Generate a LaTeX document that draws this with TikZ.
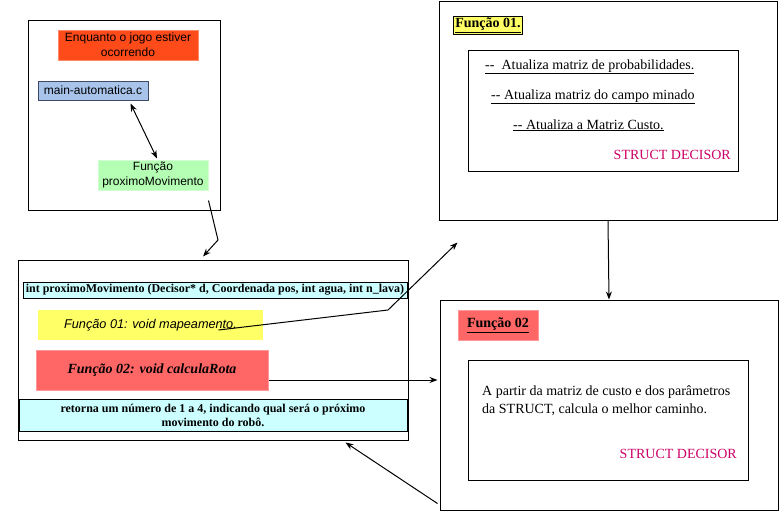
\documentclass[tikz,border=0pt]{standalone}
\usepackage{fontspec}
\setmainfont{Liberation Serif}
\newfontfamily\arialf{Liberation Sans}
\usetikzlibrary{arrows.meta,calc}
\definecolor{enqfill}{HTML}{FF4A1A}
\definecolor{enqdraw}{HTML}{FF8A6A}
\definecolor{bluefill}{HTML}{A9C4EB}
\definecolor{bluedraw}{HTML}{3E4A66}
\definecolor{greenfill}{HTML}{B5FFB5}
\definecolor{greendraw}{HTML}{D2FFD2}
\definecolor{cyanfill}{HTML}{CCFFFF}
\definecolor{yelfill}{HTML}{FFFF66}
\definecolor{redfill}{HTML}{FF6666}
\definecolor{reddraw}{HTML}{FF9999}
\definecolor{magtext}{HTML}{CC0066}
\tikzset{
  frame/.style={draw=black, line width=1pt, inner sep=0pt, fill=white},
  filled/.style={inner sep=0pt, line width=1pt, align=center},
  sans12/.style={font=\arialf\fontsize{12}{15}\selectfont},
  serif14/.style={font=\fontsize{14}{18}\selectfont},
  bold12/.style={font=\bfseries\fontsize{12}{14}\selectfont},
  conn/.style={draw=black, line width=1pt},
  tip/.style={-{Stealth[length=8pt,width=6pt]}},
}
\begin{document}
\begin{tikzpicture}[x=1pt,y=-1pt]
\useasboundingbox (0,0) rectangle (779,514);

% Box A
\node[frame, minimum width=192, minimum height=190] (A) at (124,115) {};
\node[filled, sans12, fill=enqfill, draw=enqdraw, minimum width=140, minimum height=30] (enq) at (128,45) {Enquanto o jogo estiver\\ocorrendo};
\node[filled, sans12, fill=bluefill, draw=bluedraw, minimum width=110, minimum height=19] (main) at (93,90.5) {main-automatica.c};
\node[filled, sans12, fill=greenfill, draw=greendraw, minimum width=110, minimum height=30] (fun) at (153,175) {Função\\proximoMovimento};

% Box B
\node[frame, minimum width=390, minimum height=180] (B) at (213,350) {};
\node[filled, bold12, fill=cyanfill, draw=black, minimum width=384, minimum height=16] (hdr) at (215,290) {int proximoMovimento (Decisor* d, Coordenada pos, int agua, int n\_lava)};
\node[filled, fill=yelfill, minimum width=225, minimum height=30, font=\arialf\itshape\fontsize{12.7}{15}\selectfont] (f1) at (150.5,325) {Função 01: void mapeamento.};
\node[filled, fill=redfill, draw=reddraw, minimum width=232, minimum height=40, font=\bfseries\itshape\fontsize{14}{18}\selectfont] (f2) at (152,370) {Função 02: void calculaRota};
\node[filled, fill=cyanfill, draw=black, minimum width=388, minimum height=32, font=\bfseries\fontsize{12}{14}\selectfont] (ret) at (213,415) {retorna um número de 1 a 4, indicando qual será o próximo\\movimento do robô.};

% Box C
\node[frame, minimum width=338, minimum height=219] (C) at (608,110.5) {};
\node[filled, fill=yelfill, draw=black, inner sep=1.5pt, font=\bfseries\fontsize{14}{16}\selectfont] (t1) at (488,25.5) {\underline{Função 01.}};
\node[frame, minimum width=270, minimum height=121] (cin) at (603,110.5) {};
\node[serif14, anchor=base west, inner sep=0pt] (l1) at (485,69) {\underline{-{}-\ \ Atualiza matriz de probabilidades.}};
\node[serif14, anchor=base west, inner sep=0pt] (l2) at (491,99) {\underline{-{}- Atualiza matriz do campo minado}};
\node[serif14, anchor=base west, inner sep=0pt] (l3) at (513,129) {\underline{-{}- Atualiza a Matriz Custo.}};
\node[serif14, anchor=base east, inner sep=0pt, text=magtext] (s1) at (731,159) {STRUCT DECISOR};

% Box D
\node[frame, minimum width=338, minimum height=210] (D) at (609,405) {};
\node[filled, fill=redfill, draw=reddraw, minimum width=80, minimum height=30, font=\bfseries\fontsize{14}{16}\selectfont] (t2) at (498,325) {\underline{Função 02}};
\node[frame, minimum width=280, minimum height=120] (din) at (608,420) {};
\node[serif14, anchor=base west, inner sep=0pt] (p1) at (482,395.5) {A partir da matriz de custo e dos parâmetros};
\node[serif14, anchor=base west, inner sep=0pt] (p2) at (482,413.5) {da STRUCT, calcula o melhor caminho.};
\node[serif14, anchor=base east, inner sep=0pt, text=magtext] (s2) at (737,458) {STRUCT DECISOR};

% Connectors
\coordinate (bendA) at (218,240);
\coordinate (bendF) at (388,310);
\draw[conn, {Stealth[length=8pt,width=6pt]}-{Stealth[length=8pt,width=6pt]}] ([xshift=-18pt,yshift=-3pt]main.south east) -- ([xshift=4pt,yshift=1pt]fun.north);
\draw[conn, tip] ([yshift=-10pt]fun.south east) -- (bendA) -- ([xshift=-10pt,yshift=3pt]B.north);
\draw[conn, tip] ([xshift=-45pt,yshift=-5pt]f1.east) -- (bendF) -- ([xshift=19pt,yshift=-22pt]C.south west);
\draw[conn, tip] ([yshift=-10pt]f2.east) -- ([yshift=25pt,xshift=-2pt]D.west);
\draw[conn, tip] (C.south) -- (D.north);
\draw[conn, tip] ([xshift=-2pt,yshift=7pt]D.south west) -- ([xshift=-63pt,yshift=-2pt]B.south east);
\end{tikzpicture}
\end{document}
